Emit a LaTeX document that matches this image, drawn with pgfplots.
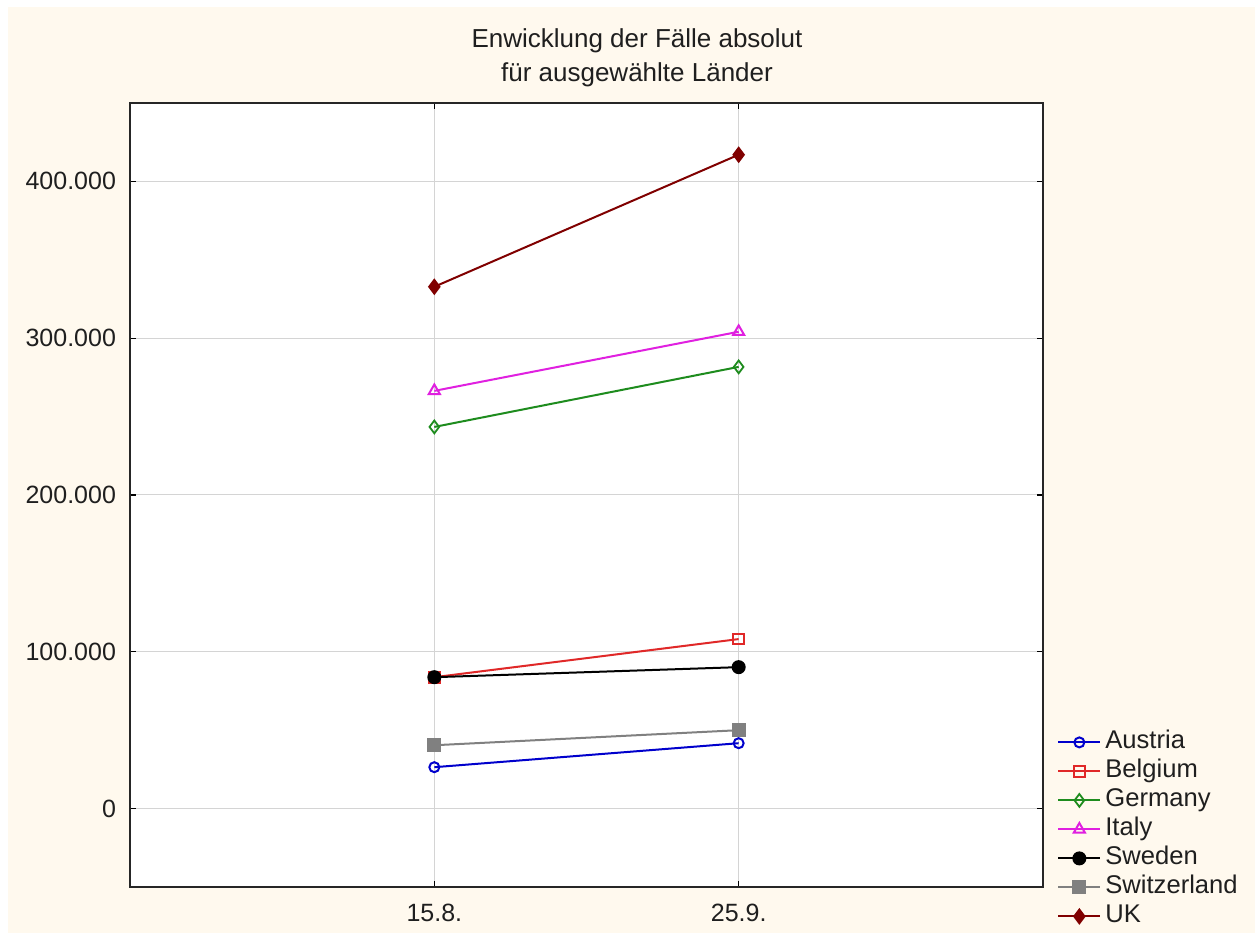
\documentclass[border=0pt]{standalone}
\usepackage{fontspec}
\setmainfont{Liberation Sans}
\usepackage{pgfplots}
\pgfplotsset{compat=1.18}

\definecolor{cream}{HTML}{FFF9EE}
\definecolor{cAustria}{HTML}{0000CC}
\definecolor{cBelgium}{HTML}{E02828}
\definecolor{cGermany}{HTML}{1E8C1E}
\definecolor{cItaly}{HTML}{E020E0}
\definecolor{cSwitzerland}{HTML}{808080}
\definecolor{cUK}{HTML}{800000}
\definecolor{gridgray}{HTML}{D4D4D4}

% 1 px of the reference = 0.5pt
\begin{document}
\begin{tikzpicture}
  \useasboundingbox (0,0) rectangle (627.5pt,467.5pt);
  \fill[white] (0,0) rectangle (627.5pt,467.5pt);
  \fill[cream] (4pt,1pt) rectangle (627.5pt,464pt);
  \node[align=center, font=\fontsize{13}{17}\selectfont, text=black!88]
    at (318.5pt,438.5pt) {Enwicklung der Fälle absolut\\für ausgewählte Länder};

  \begin{axis}[
    at={(65pt,24pt)}, anchor=south west,
    scale only axis,
    width=456.5pt, height=392pt,
    axis background/.style={fill=white},
    axis line style={black!85, line width=1pt},
    xmin=-1, xmax=2,
    ymin=-50000, ymax=450000,
    xtick={0,1}, xticklabels={15.8.,25.9.},
    ytick={0,100000,200000,300000,400000},
    scaled y ticks=false,
    /pgf/number format/.cd, fixed, 1000 sep={.}, assume math mode=true, /pgfplots/.cd,
    tick align=inside,
    major tick length=3pt,
    tick style={black, line width=0.6pt},
    grid=major,
    major grid style={gridgray, line width=0.5pt},
    ticklabel style={font=\fontsize{12.5}{14}\selectfont, text=black!88},
    yticklabel style={xshift=-3.5pt},
    xticklabel style={yshift=-5pt},
    every axis plot/.append style={line width=1pt},
    legend cell align=left,
    legend style={
      draw=none, fill=none,
      at={(1.0153,0.1996)}, anchor=north west,
      font=\fontsize{12.8}{14}\selectfont,
      inner sep=0pt, row sep=3pt,
      nodes={inner ysep=0pt, inner xsep=2pt, text height=9pt, text depth=2.5pt, text=black!88},
    },
    legend image code/.code={%
      \draw[mark repeat=2,mark phase=2,#1]
        plot coordinates {(0pt,0pt) (10.5pt,0pt) (21pt,0pt)};},
  ]

  % Austria
  \addplot[cAustria, mark=o, mark size=2.5pt, mark options={line width=1pt}]
    coordinates {(0,26400) (1,41700)};
  % Belgium
  \addplot[cBelgium, mark=square, mark size=2.7pt, mark options={line width=1pt}]
    coordinates {(0,83800) (1,108100)};
  % Germany
  \addplot[cGermany, mark=diamond, mark size=3.2pt, mark options={line width=0.9pt}]
    coordinates {(0,243400) (1,281700)};
  % Italy
  \addplot[cItaly, mark=triangle, mark size=3.2pt, mark options={line width=1pt}]
    coordinates {(0,266400) (1,304100)};
  % Sweden
  \addplot[black, mark=*, mark size=3pt]
    coordinates {(0,83800) (1,90200)};
  % Switzerland
  \addplot[cSwitzerland, mark=square*, mark size=3pt]
    coordinates {(0,40400) (1,50000)};
  % UK
  \addplot[cUK, mark=diamond*, mark size=3.4pt]
    coordinates {(0,332800) (1,417000)};

  \legend{Austria,Belgium,Germany,Italy,Sweden,Switzerland,UK}
  \end{axis}
\end{tikzpicture}
\end{document}
